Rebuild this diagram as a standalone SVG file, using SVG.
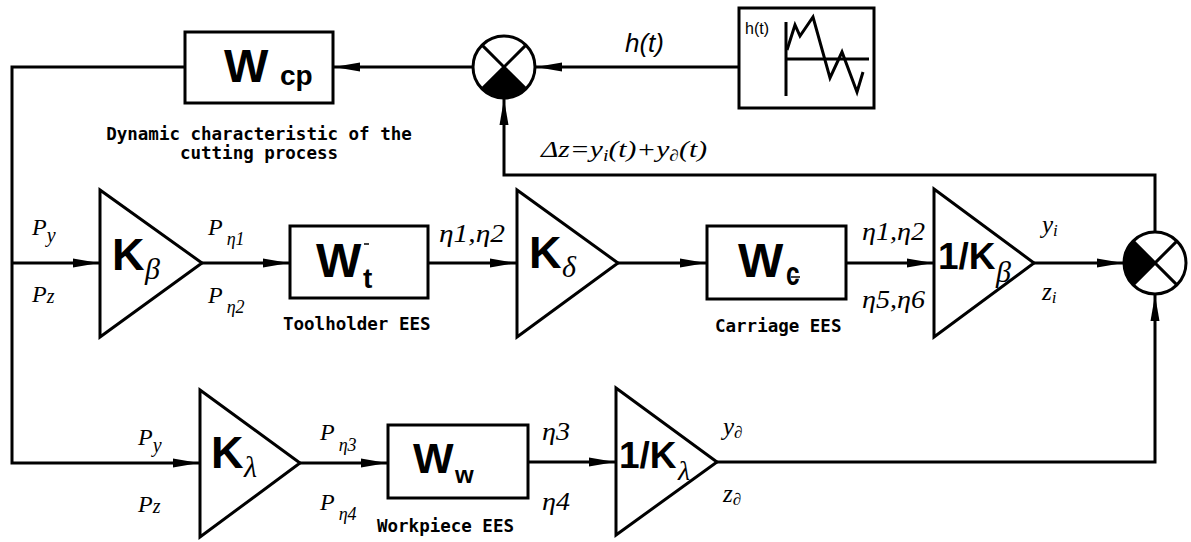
<svg xmlns="http://www.w3.org/2000/svg" width="1191" height="542" viewBox="0 0 1191 542">
<style>
.ln{fill:none;stroke:#000;stroke-width:3;stroke-linejoin:miter}
.bx{fill:#fff;stroke:#000;stroke-width:3}
.bw{font-family:"Liberation Sans",Arial,sans-serif;font-weight:bold;fill:#000}
.it{font-family:"Liberation Serif","Times New Roman",serif;font-style:italic;fill:#000}
.mono{font-family:"DejaVu Sans Mono","Liberation Mono",monospace;font-weight:bold;font-size:17.5px;fill:#000}
.hs{font-family:"Liberation Sans",Arial,sans-serif;font-style:italic;fill:#000}
</style>
<defs>
<marker id="ah" viewBox="0 0 26 10" refX="26" refY="5" markerWidth="26" markerHeight="10" markerUnits="userSpaceOnUse" orient="auto">
<path d="M0,0.5 L26,5 L0,9.5 Z" fill="#000"/>
</marker>
</defs>
<rect width="1191" height="542" fill="#fff"/>
<g id="connectors">
<path class="ln" d="M739,67 H536" marker-end="url(#ah)"/>
<path class="ln" d="M473,67 H334" marker-end="url(#ah)"/>
<path class="ln" d="M185,67 H12 V463 H199" marker-end="url(#ah)"/>
<path class="ln" d="M12,263 H99" marker-end="url(#ah)"/>
<path class="ln" d="M202,263 H289" marker-end="url(#ah)"/>
<path class="ln" d="M428,263 H516" marker-end="url(#ah)"/>
<path class="ln" d="M618,263 H706" marker-end="url(#ah)"/>
<path class="ln" d="M846,263 H933" marker-end="url(#ah)"/>
<path class="ln" d="M1034,263 H1123" marker-end="url(#ah)"/>
<path class="ln" d="M1155,232 V175 H504 V99" marker-end="url(#ah)"/>
<path class="ln" d="M300,463 H387" marker-end="url(#ah)"/>
<path class="ln" d="M528,462 H615" marker-end="url(#ah)"/>
<path class="ln" d="M717,462 H1155 V295" marker-end="url(#ah)"/>
</g>
<g id="sum1">
<circle cx="504" cy="67" r="31" fill="#fff" stroke="#000" stroke-width="3"/>
<path d="M504,67 L525.9,88.9 A31,31 0 0 1 482.1,88.9 Z" fill="#000"/>
<path class="ln" d="M482.1,45.1 L525.9,88.9 M525.9,45.1 L482.1,88.9"/>
</g>
<g id="sum2">
<circle cx="1155" cy="263" r="31" fill="#fff" stroke="#000" stroke-width="3"/>
<path d="M1155,263 L1133.1,284.9 A31,31 0 0 1 1133.1,241.1 Z" fill="#000"/>
<path class="ln" d="M1133.1,241.1 L1176.9,284.9 M1176.9,241.1 L1133.1,284.9"/>
</g>
<g id="ht">
<rect class="bx" x="739" y="8" width="135" height="100"/>
<text x="745" y="34" font-family="Liberation Sans,Arial,sans-serif" font-size="16">h(t)</text>
<path class="ln" d="M786,22 V96 M786,59 H869"/>
<path class="ln" d="M787,50 L795,25 L800,36 L813,17 L830,78 L842,52 L857,92 L863,72"/>
</g>
<text class="hs" x="625" y="52" font-size="26">h(t)</text>
<text class="it" x="541" y="157" font-size="24" textLength="166" lengthAdjust="spacingAndGlyphs">Δz=y<tspan font-size="16" dy="4">i</tspan><tspan dy="-4">(t)+y</tspan><tspan font-size="16" dy="4">∂</tspan><tspan dy="-4">(t)</tspan></text>
<g id="wcp">
<rect class="bx" x="185" y="32" width="148" height="71"/>
<text class="bw" x="224" y="82" font-size="47">W</text>
<text class="bw" x="280" y="85" font-size="28">cp</text>
<text class="mono" x="259" y="140" text-anchor="middle">Dynamic characteristic of the</text>
<text class="mono" x="259" y="159" text-anchor="middle">cutting process</text>
</g>
<g id="kbeta">
<path class="bx" d="M100,190 L100,337 L202,263 Z"/>
<text class="bw" x="112" y="270" font-size="45">K</text>
<text class="it" x="145" y="279" font-size="30">β</text>
</g>
<g id="wt">
<rect class="bx" x="290" y="226" width="138" height="72"/>
<text class="bw" x="316" y="277" font-size="48">W</text>
<text class="bw" x="363" y="288" font-size="28">t</text>
<path d="M364,244 H369" stroke="#000" stroke-width="1.5"/>
<text class="mono" x="283" y="330">Toolholder EES</text>
</g>
<g id="kdelta">
<path class="bx" d="M517,190 L517,337 L618,263 Z"/>
<text class="bw" x="529" y="268" font-size="45">K</text>
<text class="it" x="562" y="277" font-size="30">δ</text>
</g>
<g id="wc">
<rect class="bx" x="707" y="226" width="139" height="73"/>
<text class="bw" x="738" y="277" font-size="48">W</text>
<text class="bw" x="0" y="285" font-size="34" transform="translate(786,0) scale(0.72,1)">c</text>
<path d="M791,277 H800" stroke="#000" stroke-width="1.5"/>
<text class="mono" x="715" y="332">Carriage EES</text>
</g>
<g id="invkbeta">
<path class="bx" d="M934,189 L934,337 L1034,263 Z"/>
<text class="bw" x="938" y="269" font-size="37">1/K</text>
<text class="it" x="996" y="282" font-size="30">β</text>
</g>
<g id="klambda">
<path class="bx" d="M200,390 L200,537 L300,463 Z"/>
<text class="bw" x="211" y="468" font-size="45">K</text>
<text class="it" x="244" y="477" font-size="30">λ</text>
</g>
<g id="ww">
<rect class="bx" x="388" y="425" width="140" height="73"/>
<text class="bw" x="413" y="473" font-size="43">W</text>
<text class="bw" x="455" y="483" font-size="24">w</text>
<text class="mono" x="377" y="532">Workpiece EES</text>
</g>
<g id="invklambda">
<path class="bx" d="M616,388 L616,535 L717,462 Z"/>
<text class="bw" x="619" y="468" font-size="37">1/K</text>
<text class="it" x="678" y="480" font-size="28">λ</text>
</g>
<g id="labels">
<text class="it" x="32" y="235" font-size="24">P<tspan font-size="20" dy="7">y</tspan></text>
<text class="it" x="32" y="302" font-size="24">P<tspan font-size="20" dy="1">z</tspan></text>
<text class="it" x="208" y="235" font-size="24">P<tspan font-size="18" dx="4" dy="10">η1</tspan></text>
<text class="it" x="208" y="303" font-size="24">P<tspan font-size="18" dx="4" dy="10">η2</tspan></text>
<text class="it" x="439" y="242" font-size="25" textLength="66" lengthAdjust="spacingAndGlyphs">η1,η2</text>
<text class="it" x="862" y="240" font-size="25" textLength="63" lengthAdjust="spacingAndGlyphs">η1,η2</text>
<text class="it" x="862" y="308" font-size="25" textLength="63" lengthAdjust="spacingAndGlyphs">η5,η6</text>
<text class="it" x="1042" y="233" font-size="25">y<tspan font-size="17" dy="3">i</tspan></text>
<text class="it" x="1042" y="300" font-size="25">z<tspan font-size="17" dy="3">i</tspan></text>
<text class="it" x="138" y="445" font-size="24">P<tspan font-size="20" dy="7">y</tspan></text>
<text class="it" x="138" y="512" font-size="24">P<tspan font-size="20" dy="1">z</tspan></text>
<text class="it" x="320" y="440" font-size="24">P<tspan font-size="18" dx="4" dy="11">η3</tspan></text>
<text class="it" x="320" y="510" font-size="24">P<tspan font-size="18" dx="4" dy="10">η4</tspan></text>
<text class="it" x="542" y="440" font-size="25" textLength="28" lengthAdjust="spacingAndGlyphs">η3</text>
<text class="it" x="542" y="510" font-size="25" textLength="28" lengthAdjust="spacingAndGlyphs">η4</text>
<text class="it" x="723" y="435" font-size="25">y<tspan font-size="17" dy="3">∂</tspan></text>
<text class="it" x="723" y="502" font-size="25">z<tspan font-size="17" dy="3">∂</tspan></text>
</g>
</svg>
